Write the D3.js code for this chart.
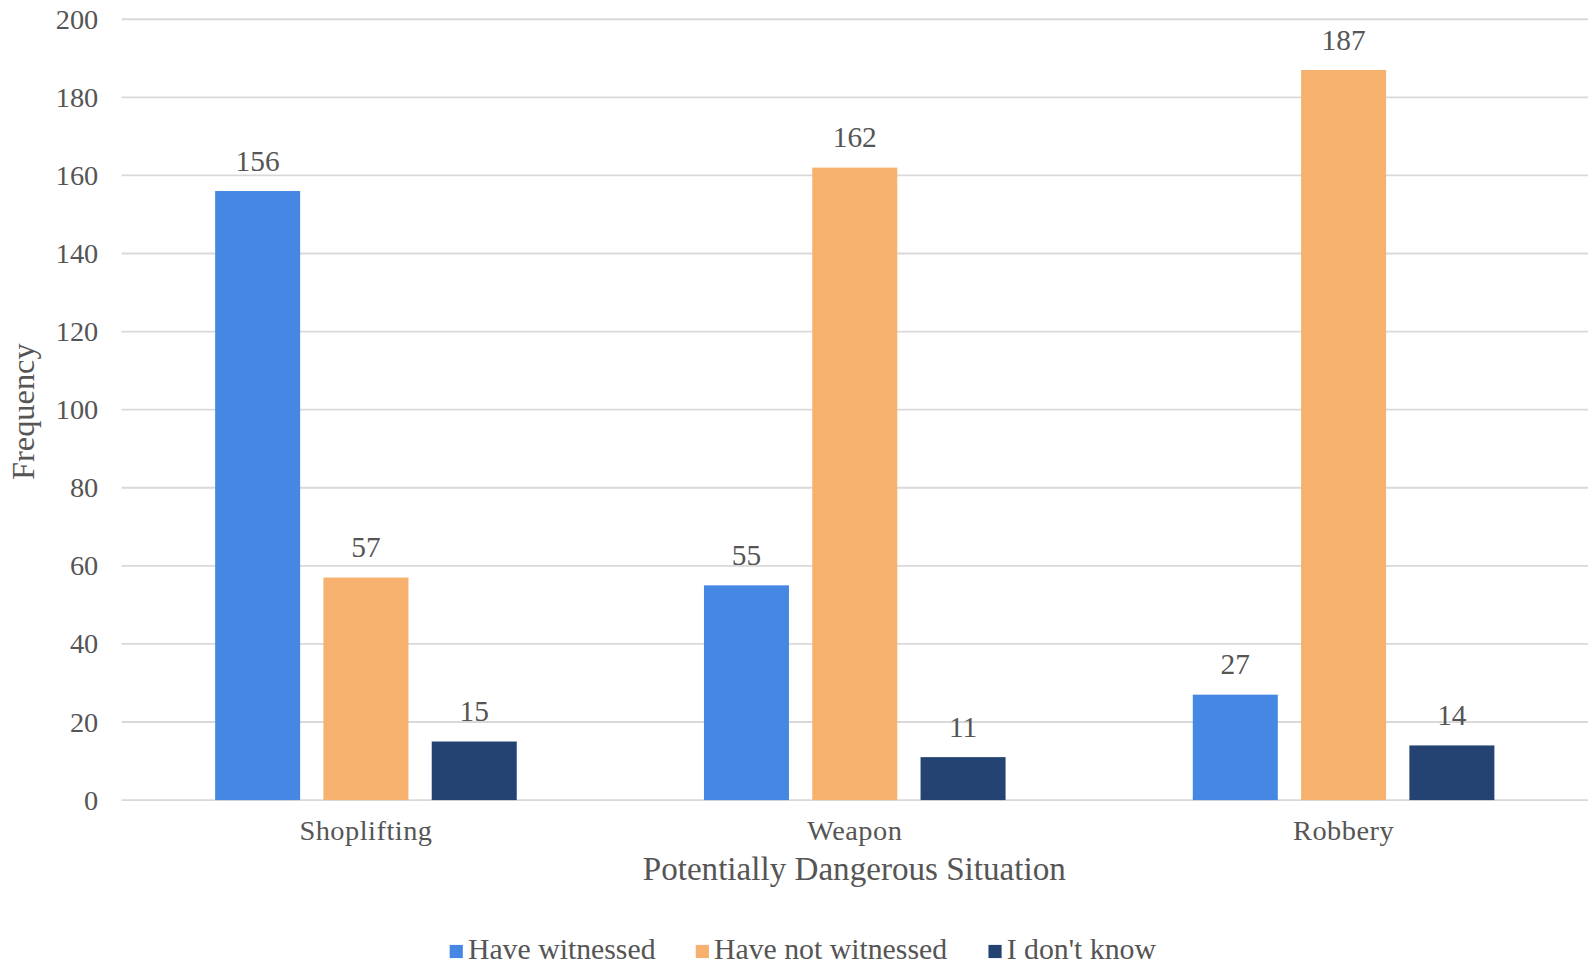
<!DOCTYPE html>
<html><head><meta charset="utf-8">
<script src="https://cdn.jsdelivr.net/npm/d3@7"></script>
<style>body{margin:0;background:#fff}svg{display:block}text{font-family:"Liberation Serif","Times New Roman",serif;fill:#555}</style>
</head><body><svg id="c" width="1588" height="966"></svg>
<script>
const categories = ["Shoplifting", "Weapon", "Robbery"];
const seriesNames = ["Have witnessed", "Have not witnessed", "I don't know"];
const haveWitnessed = [156, 55, 27];
const haveNotWitnessed = [57, 162, 187];
const dontKnow = [15, 11, 14];
const yTicks = [0, 20, 40, 60, 80, 100, 120, 140, 160, 180, 200];
const colors = ["#4787E4", "#F7B16E", "#244373"];

const series = [haveWitnessed, haveNotWitnessed, dontKnow];
const k = 1588 / 1568;
const svg = d3.select("#c").append("g").attr("transform", `scale(${k})`);
const L = 120, R = 1568, T = 19, B = 790;
const x0 = d3.scaleBand().domain(categories).range([L, R]).paddingInner(0.383).paddingOuter(0.1915);
const x1 = d3.scaleBand().domain(seriesNames).range([0, x0.bandwidth()]).paddingInner(0.215).paddingOuter(0);
const y = d3.scaleLinear().domain([0, 200]).range([B, T]);

// gridlines
svg.append("g").selectAll("line").data(yTicks).join("line")
  .attr("x1", L).attr("x2", R).attr("y1", d => y(d)).attr("y2", d => y(d))
  .attr("stroke", "#d9d9d9").attr("stroke-width", 1.8);

// y axis labels
const yAxis = svg.append("g").attr("transform", `translate(${L},0)`)
  .call(d3.axisLeft(y).tickValues(yTicks).tickSize(0).tickPadding(23));
yAxis.select(".domain").remove();
yAxis.selectAll("text").attr("font-size", 28).attr("font-family", "Liberation Serif").attr("fill", "#555");

// bars
categories.forEach((c, ci) => {
  const g = svg.append("g").attr("transform", `translate(${x0(c)},0)`);
  seriesNames.forEach((s, si) => {
    const v = series[si][ci];
    g.append("rect").attr("x", x1(s)).attr("width", x1.bandwidth())
      .attr("y", y(v)).attr("height", y(0) - y(v)).attr("fill", colors[si]);
    g.append("text").attr("x", x1(s) + x1.bandwidth() / 2).attr("y", y(v) - 20)
      .attr("text-anchor", "middle").attr("font-size", 29).text(v);
  });
});

// x axis labels
const xAxis = svg.append("g").attr("transform", `translate(0,${B})`)
  .call(d3.axisBottom(x0).tickSize(0).tickPadding(20));
xAxis.select(".domain").remove();
xAxis.selectAll("text").attr("font-size", 28).attr("letter-spacing", 0.5)
  .attr("font-family", "Liberation Serif").attr("fill", "#555");

// axis titles
svg.append("text").attr("x", 843.5).attr("y", 869).attr("text-anchor", "middle")
  .attr("font-size", 32.7).text("Potentially Dangerous Situation");
svg.append("text").attr("transform", `translate(34,406.5) rotate(-90)`)
  .attr("text-anchor", "middle").attr("font-size", 32).text("Frequency");

// legend
const legX = [444, 687, 976];
seriesNames.forEach((s, i) => {
  svg.append("rect").attr("x", legX[i]).attr("y", 933).attr("width", 13).attr("height", 13).attr("fill", colors[i]);
  svg.append("text").attr("x", legX[i] + 18).attr("y", 947).attr("font-size", 29.4).text(s);
});
</script></body></html>
